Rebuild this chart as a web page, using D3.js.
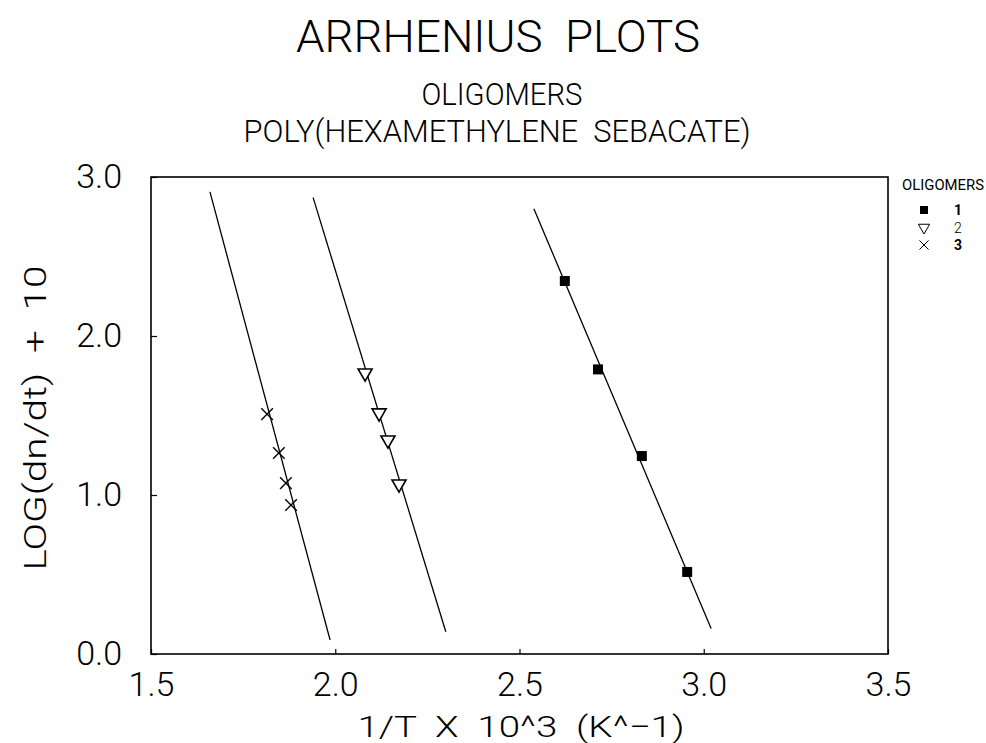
<!DOCTYPE html>
<html><head><meta charset="utf-8">
<script src="https://cdn.jsdelivr.net/npm/d3@7"></script>
<style>body{margin:0;background:#fff}</style>
</head><body><svg id="c" width="986" height="743"></svg>
<script>
// ---- data ----
const xTicks = [1.5, 2.0, 2.5, 3.0, 3.5];
const yTicks = [0.0, 1.0, 2.0, 3.0];
const seriesNames = ["1", "2", "3"];
const s1X = [2.623, 2.713, 2.832, 2.955];
const s1Y = [2.346, 1.790, 1.245, 0.516];
const s2X = [2.081, 2.119, 2.143, 2.173];
const s2Y = [1.767, 1.516, 1.346, 1.069];
const s3X = [1.815, 1.847, 1.866, 1.880];
const s3Y = [1.509, 1.264, 1.075, 0.937];
// fitted lines (end points)
const fit1X = [2.539, 3.020], fit1Y = [2.80, 0.16];
const fit2X = [1.940, 2.300], fit2Y = [2.87, 0.14];
const fit3X = [1.660, 1.986], fit3Y = [2.906, 0.088];

const FONT = "Roboto, 'Liberation Sans', sans-serif";
const svg = d3.select("#c");
const x = d3.scaleLinear().domain([1.5, 3.5]).range([151, 888]);
const y = d3.scaleLinear().domain([0, 3]).range([654, 177]);

// titles
function txt(t, cx, cy, size, len) {
  const e = svg.append("text").attr("x", cx).attr("y", cy).attr("text-anchor", "middle")
    .attr("font-family", FONT).attr("font-weight", 300).attr("font-size", size)
    .attr("fill", "#000").attr("xml:space", "preserve").text(t);
  if (len) e.attr("textLength", len).attr("lengthAdjust", "spacingAndGlyphs");
  return e;
}
txt("ARRHENIUS  PLOTS", 498, 52, 45, 404);
txt("OLIGOMERS", 502, 105, 31, 161);
txt("POLY(HEXAMETHYLENE  SEBACATE)", 497, 142, 32, 507);
txt("1/T  X  10^3  (K^\u22121)", 521, 737, 30, 327);
txt("LOG(dn/dt)  +  10", 0, 0, 31, 305).attr("transform", "translate(46,418) rotate(-90)");

// frame
svg.append("rect").attr("x", x(1.5)).attr("y", y(3)).attr("width", x(3.5) - x(1.5))
  .attr("height", y(0) - y(3)).attr("fill", "none").attr("stroke", "#000").attr("stroke-width", 1.6);

// axes
const gx = svg.append("g").attr("transform", `translate(0,${y(0)})`)
  .call(d3.axisBottom(x).tickValues(xTicks).tickSizeInner(-5).tickSizeOuter(0)
    .tickPadding(18).tickFormat(d3.format(".1f")));
const gy = svg.append("g").attr("transform", `translate(${x(1.5)},0)`)
  .call(d3.axisLeft(y).tickValues(yTicks).tickSizeInner(-6).tickSizeOuter(0)
    .tickPadding(29).tickFormat(d3.format(".1f")));
[gx, gy].forEach(g => {
  g.select(".domain").remove();
  g.selectAll("line").attr("stroke", "#000").attr("stroke-width", 1.2);
  g.selectAll("text").attr("font-family", FONT).attr("font-weight", 300).attr("font-size", 34).attr("fill", "#000");
});

// lines
const line = d3.line().x(d => x(d[0])).y(d => y(d[1]));
[[fit1X, fit1Y], [fit2X, fit2Y], [fit3X, fit3Y]].forEach(([fx, fy]) => {
  svg.append("path").datum(fx.map((v, i) => [v, fy[i]])).attr("d", line)
    .attr("fill", "none").attr("stroke", "#000").attr("stroke-width", 1.3);
});

// markers
const sq = d3.symbol().type(d3.symbolSquare).size(100);
const tri = d3.symbol().type(d3.symbolTriangle).size(85);
const cr = d3.symbol().type(d3.symbolTimes).size(90);
function drawSym(g, kind, px, py) {
  if (kind === 0) g.append("path").attr("d", sq()).attr("transform", `translate(${px},${py})`).attr("fill", "#000");
  else if (kind === 1) g.append("path").attr("d", tri()).attr("transform", `translate(${px},${py}) rotate(180)`)
    .attr("fill", "#fff").attr("stroke", "#000").attr("stroke-width", 1.6);
  else g.append("path").attr("d", cr()).attr("transform", `translate(${px},${py})`)
    .attr("fill", "none").attr("stroke", "#000").attr("stroke-width", 1.4);
}
const mk = svg.append("g");
s1X.forEach((v, i) => drawSym(mk, 0, x(v), y(s1Y[i])));
s2X.forEach((v, i) => drawSym(mk, 1, x(v), y(s2Y[i])));
s3X.forEach((v, i) => drawSym(mk, 2, x(v), y(s3Y[i])));

// legend
const lg = svg.append("g");
lg.append("text").attr("x", 943).attr("y", 190).attr("text-anchor", "middle").attr("font-family", FONT)
  .attr("font-size", 14).attr("textLength", 82).attr("lengthAdjust", "spacingAndGlyphs").text("OLIGOMERS");
seriesNames.forEach((n, i) => {
  const yy = 210 + i * 17.5;
  const s = d3.symbol().type([d3.symbolSquare, d3.symbolTriangle, d3.symbolTimes][i]).size(i === 0 ? 64 : 55);
  const p = lg.append("path").attr("d", s());
  if (i === 0) p.attr("transform", `translate(924,${yy})`).attr("fill", "#000");
  else if (i === 1) p.attr("transform", `translate(924,${yy}) rotate(180)`).attr("fill", "#fff").attr("stroke", "#000").attr("stroke-width", 1);
  else p.attr("transform", `translate(924,${yy})`).attr("fill", "none").attr("stroke", "#000").attr("stroke-width", 1);
  lg.append("text").attr("x", 958).attr("y", yy + 5).attr("text-anchor", "middle").attr("font-family", FONT)
    .attr("font-size", 14).attr("font-weight", i === 1 ? 300 : 700).text(n);
});
</script></body></html>
